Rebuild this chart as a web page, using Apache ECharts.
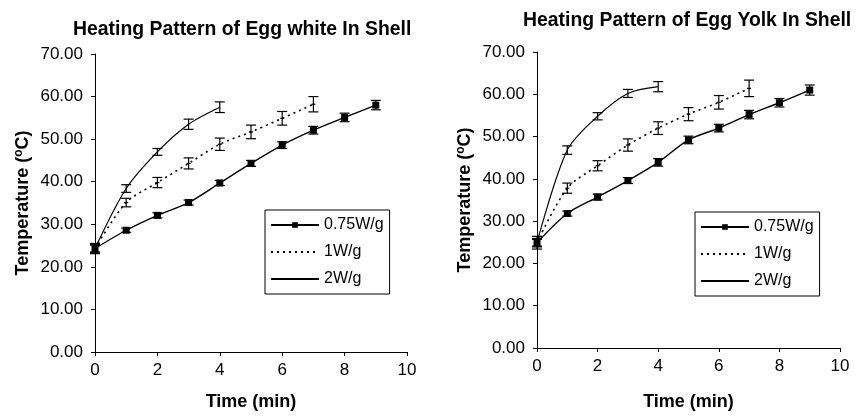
<!DOCTYPE html>
<html>
<head>
<meta charset="utf-8">
<script src="https://cdn.jsdelivr.net/npm/echarts@6/dist/echarts.min.js"></script>
<style>
  html, body { margin: 0; padding: 0; background: #fff; }
  #main { width: 858px; height: 416px; }
</style>
</head>
<body>
<div id="main"></div>
<script>
// time points (min)
var times = [0, 1, 2, 3, 4, 5, 6, 7, 8, 9];
var seriesNames = ['0.75W/g', '1W/g', '2W/g'];
var xTicks = [0, 2, 4, 6, 8, 10];
var yTicks = [0, 10, 20, 30, 40, 50, 60, 70];

// egg white
var whiteLow = [24.3, 28.6, 32.1, 35.1, 39.7, 44.3, 48.6, 52.1, 55.1, 58.0];
var whiteLowErr = [1.0, 0.5, 0.6, 0.6, 0.6, 0.7, 0.8, 0.9, 1.0, 1.1];
var whiteMid = [24.3, 35.1, 39.8, 44.3, 48.8, 51.7, 54.9, 58.2];
var whiteMidErr = [1.2, 1.0, 1.2, 1.3, 1.45, 1.6, 1.6, 1.8];
var whiteHigh = [24.3, 38.4, 47.0, 53.5, 57.5];
var whiteHighErr = [0.8, 0.9, 0.8, 1.2, 1.25];

// egg yolk
var yolkLow = [24.9, 31.8, 35.7, 39.6, 43.9, 49.2, 52.0, 55.2, 58.0, 61.0];
var yolkLowErr = [0.8, 0.6, 0.7, 0.7, 0.9, 0.9, 0.9, 1.0, 1.0, 1.2];
var yolkMid = [24.9, 37.8, 43.1, 48.0, 52.0, 55.3, 58.1, 61.4];
var yolkMidErr = [1.5, 1.2, 1.2, 1.45, 1.5, 1.55, 1.6, 1.95];
var yolkHigh = [24.9, 46.8, 54.8, 60.2, 61.8];
var yolkHighErr = [1.0, 1.0, 0.85, 0.95, 1.2];

var FONT = 'Liberation Sans, Arial, sans-serif';

function pairs(vals) {
    return vals.map(function(v, i) { return [times[i], v]; });
}

function triples(vals, errs) {
    return vals.map(function(v, i) { return [times[i], v, errs[i]]; });
}

function errorBars(idx, vals, errs, centerDash) {
    return {
        type: 'custom',
        xAxisIndex: idx,
        yAxisIndex: idx,
        z: 5,
        silent: true,
        data: triples(vals, errs),
        renderItem: function(params, api) {
            var x = api.value(0), y = api.value(1), e = api.value(2);
            var top = api.coord([x, y + e]);
            var bot = api.coord([x, y - e]);
            var mid = api.coord([x, y]);
            var w = 5;
            var style = { stroke: '#000', lineWidth: 1.2 };
            var children = [
                { type: 'line', shape: { x1: top[0], y1: top[1], x2: bot[0], y2: bot[1] }, style: style },
                { type: 'line', shape: { x1: top[0] - w, y1: top[1], x2: top[0] + w, y2: top[1] }, style: style },
                { type: 'line', shape: { x1: bot[0] - w, y1: bot[1], x2: bot[0] + w, y2: bot[1] }, style: style }
            ];
            if (centerDash) {
                children.push({ type: 'line', shape: { x1: mid[0] - 2, y1: mid[1], x2: mid[0] + 2, y2: mid[1] }, style: style });
            }
            return { type: 'group', children: children };
        }
    };
}

function lineSeries(idx, name, vals, kind) {
    var s = {
        type: 'line',
        name: name,
        xAxisIndex: idx,
        yAxisIndex: idx,
        data: pairs(vals),
        smooth: 0.3,
        color: '#000',
        lineStyle: { color: '#000', width: 1.4 },
        symbol: 'none',
        animation: false
    };
    if (kind == 'square') {
        s.symbol = 'rect';
        s.symbolSize = 7;
        s.itemStyle = { color: '#000' };
    } else if (kind == 'dotted') {
        s.lineStyle = { color: '#000', width: 1.6, type: [2, 4] };
    } else {
        s.lineStyle = { color: '#000', width: 1.2 };
    }
    return s;
}

function xAxis(idx) {
    return {
        gridIndex: idx,
        type: 'value',
        min: 0,
        max: 10,
        interval: 2,
        name: 'Time (min)',
        nameLocation: 'middle',
        nameGap: idx == 0 ? 41 : 45,
        nameTextStyle: { color: '#000', fontSize: 18, fontWeight: 'bold', fontFamily: FONT },
        axisLine: { lineStyle: { color: '#000', width: 1 } },
        axisTick: { inside: false, length: 4, lineStyle: { color: '#000' } },
        axisLabel: { color: '#000', fontSize: 17, fontFamily: FONT, margin: 10 },
        splitLine: { show: false }
    };
}

function yAxis(idx) {
    return {
        gridIndex: idx,
        type: 'value',
        min: 0,
        max: 70,
        interval: 10,
        name: 'Temperature ({sup|o}C)',
        nameLocation: 'middle',
        nameRotate: 90,
        nameGap: 62,
        nameTextStyle: {
            color: '#000', fontSize: 18, fontWeight: 'bold', fontFamily: FONT,
            rich: { sup: { fontSize: 12, fontWeight: 'bold', fontFamily: FONT, color: '#000', padding: [0, 0, 8, 0] } }
        },
        axisLine: { show: true, lineStyle: { color: '#000', width: 1 } },
        axisTick: { show: true, inside: false, length: 4, lineStyle: { color: '#000' } },
        axisLabel: {
            color: '#000', fontSize: 17, fontFamily: FONT, margin: 12,
            formatter: function(v) { return v.toFixed(2); }
        },
        splitLine: { show: false }
    };
}

function legend(left, top) {
    return {
        data: [
            { name: seriesNames[0] },
            { name: seriesNames[1], itemStyle: { opacity: 0 } },
            { name: seriesNames[2], itemStyle: { opacity: 0 } }
        ],
        orient: 'vertical',
        left: left,
        top: top,
        padding: [7, 6, 7, 5],
        itemGap: 11,
        itemWidth: 48,
        itemHeight: 7,
        borderColor: '#000',
        borderWidth: 1,
        borderRadius: 0,
        selectedMode: false,
        textStyle: { color: '#000', fontSize: 16, fontFamily: FONT }
    };
}

var chart = echarts.init(document.getElementById('main'));

var option = {
    backgroundColor: '#fff',
    animation: false,
    textStyle: { fontFamily: FONT },
    title: [
        { text: 'Heating Pattern of Egg white In Shell', left: 68, top: 15,
          textStyle: { fontSize: 19.4, fontWeight: 'bold', color: '#000', fontFamily: FONT } },
        { text: 'Heating Pattern of Egg Yolk In Shell', left: 518, top: 6,
          textStyle: { fontSize: 19.4, fontWeight: 'bold', color: '#000', fontFamily: FONT } }
    ],
    legend: [legend(265, 210), legend(695, 212)],
    grid: [
        { left: 95, top: 54, width: 312, height: 298 },
        { left: 537, top: 52, width: 303, height: 299 }
    ],
    xAxis: [xAxis(0), xAxis(1)],
    yAxis: [yAxis(0), yAxis(1)],
    series: [
        lineSeries(0, seriesNames[0], whiteLow, 'square'),
        lineSeries(0, seriesNames[1], whiteMid, 'dotted'),
        lineSeries(0, seriesNames[2], whiteHigh, 'solid'),
        errorBars(0, whiteLow, whiteLowErr, false),
        errorBars(0, whiteMid, whiteMidErr, true),
        errorBars(0, whiteHigh, whiteHighErr, false),
        lineSeries(1, seriesNames[0], yolkLow, 'square'),
        lineSeries(1, seriesNames[1], yolkMid, 'dotted'),
        lineSeries(1, seriesNames[2], yolkHigh, 'solid'),
        errorBars(1, yolkLow, yolkLowErr, false),
        errorBars(1, yolkMid, yolkMidErr, true),
        errorBars(1, yolkHigh, yolkHighErr, false)
    ]
};

chart.setOption(option);
</script>
</body>
</html>
